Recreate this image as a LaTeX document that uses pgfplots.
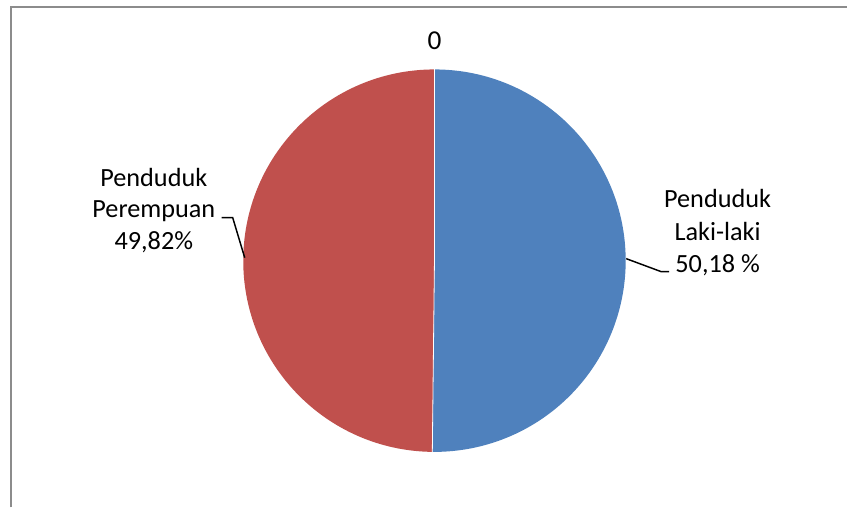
\documentclass[border=0pt]{standalone}
\usepackage{pgfplots}
\pgfplotsset{compat=1.18}
\usepackage{pgfplotstable}
\usepackage{fontspec}
\setmainfont{Carlito}
\definecolor{blueS}{HTML}{4F81BD}
\definecolor{redS}{HTML}{C0504D}
\definecolor{frameG}{HTML}{8C8C8C}
\pgfplotstableread{
label value
Laki 50.18
Perempuan 49.82
}\piedata
\begin{document}
\begin{tikzpicture}
\pgfplotstablegetelem{0}{value}\of\piedata \let\vA\pgfplotsretval
\pgfplotstablegetelem{1}{value}\of\piedata \let\vB\pgfplotsretval
\pgfmathsetmacro{\fA}{\vA/(\vA+\vB)}
\pgfmathsetmacro{\fB}{\vB/(\vA+\vB)}
\pgfmathsetmacro{\aEnd}{90-360*\fA}
\pgfmathsetmacro{\bEnd}{\aEnd-360*\fB}
\begin{axis}[x=0.75pt, y=0.75pt, xmin=0, xmax=848, ymin=0, ymax=508,
  hide axis, clip=false]
\path (axis cs:0,0) rectangle (axis cs:848,508);
% frame
\draw[frameG, line width=1.6pt] (axis cs:11,0) -- (axis cs:11,501) -- (axis cs:848,501);
% slices
\fill[blueS] (axis cs:435,247) -- ++(90:143.6pt) arc[start angle=90, end angle=\aEnd, radius=143.6pt] -- cycle;
\fill[redS] (axis cs:435,247) -- ++(\aEnd:143.6pt) arc[start angle=\aEnd, end angle=\bEnd, radius=143.6pt] -- cycle;
\draw[white, line width=0.6pt] (axis cs:435,247) -- ++(90:143.6pt);
\draw[white, line width=0.6pt] (axis cs:435,247) -- ++(\aEnd:143.6pt);
% title
\node[font=\fontsize{20.5}{24}\selectfont, anchor=base] at (axis cs:435,458) {0};
% right label
\draw[black, line width=1.1pt] (axis cs:627,249) -- (axis cs:662,236) -- (axis cs:670,236);
\node[font=\fontsize{19.7}{23.8}\selectfont, anchor=base] at (axis cs:718.5,300) {Penduduk};
\node[font=\fontsize{19.7}{23.8}\selectfont, anchor=base] at (axis cs:718.5,267) {Laki-laki};
\node[font=\fontsize{19.7}{23.8}\selectfont, anchor=base] at (axis cs:718.5,235) {50,18 \%};
% left label
\draw[black, line width=1.1pt] (axis cs:222,290) -- (axis cs:233,290) -- (axis cs:245,250);
\node[font=\fontsize{19.7}{23.8}\selectfont, anchor=base] at (axis cs:154,321) {Penduduk};
\node[font=\fontsize{19.7}{23.8}\selectfont, anchor=base] at (axis cs:154,290) {Perempuan};
\node[font=\fontsize{19.7}{23.8}\selectfont, anchor=base] at (axis cs:154,258) {49,82\%};
\end{axis}
\end{tikzpicture}
\end{document}
